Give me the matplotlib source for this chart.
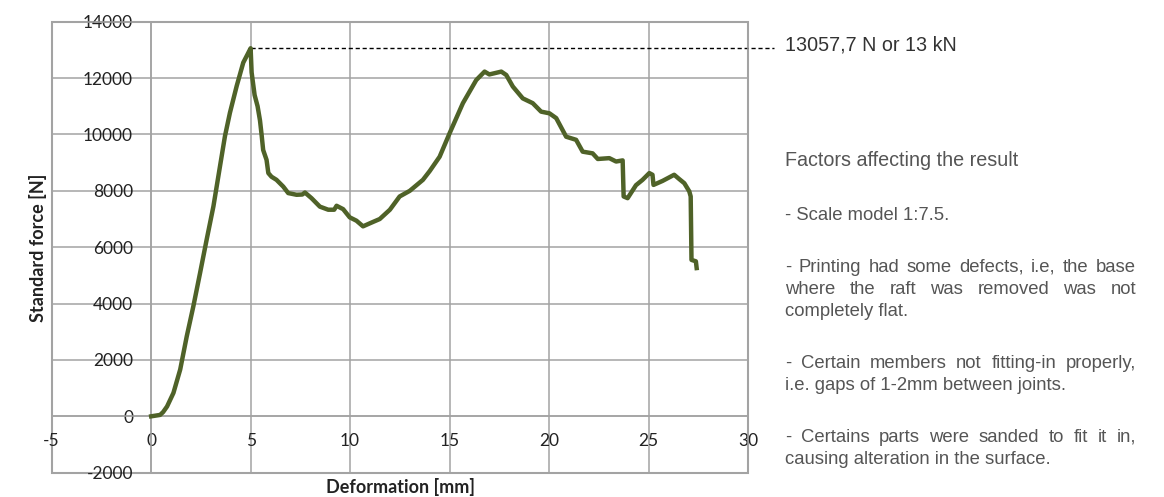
import matplotlib
matplotlib.use("Agg")
import matplotlib.pyplot as plt

plt.rcParams["axes.unicode_minus"] = False

# deformation [mm] and standard force [N]
deformation = [0, 0.45, 0.6, 0.8, 1.12, 1.46, 1.79, 2.12, 2.46, 2.79, 3.13, 3.46, 3.71,
               3.96, 4.3, 4.63, 4.85, 5.0, 5.05, 5.2, 5.35, 5.47, 5.55, 5.63, 5.8,
               5.89, 6.05, 6.3, 6.64, 6.89, 7.31, 7.6, 7.73, 8.06, 8.48, 8.9, 9.2,
               9.32, 9.65, 9.98, 10.32, 10.65, 11.0, 11.49, 12.0, 12.49, 13.0, 13.66,
               14.0, 14.5, 15.0, 15.67, 16.34, 16.76, 17.0, 17.6, 17.85, 18.18, 18.68,
               19.18, 19.6, 20.02, 20.36, 20.86, 21.36, 21.69, 22.19, 22.45, 23.03,
               23.37, 23.7, 23.75, 23.95, 24.37, 24.7, 25.04, 25.2, 25.25, 25.7, 26.29,
               26.54, 26.8, 27.05, 27.12, 27.16, 27.38, 27.42]
force = [0, 50, 150, 350, 830, 1660, 2840, 3900, 5090, 6270, 7450, 8870, 9940,
         10770, 11720, 12550, 12850, 13058, 12200, 11400, 11000, 10500, 10000, 9450, 9100,
         8630, 8500, 8390, 8150, 7920, 7860, 7870, 7940, 7740, 7440, 7330, 7330,
         7470, 7350, 7060, 6940, 6740, 6850, 7000, 7330, 7800, 8000, 8390,
         8700, 9210, 10040, 11110, 11930, 12230, 12130, 12230, 12110, 11700, 11280,
         11110, 10810, 10750, 10580, 9920, 9810, 9390, 9330, 9130, 9160,
         9040, 9080, 7800, 7740, 8200, 8390, 8630, 8570, 8210, 8350, 8570,
         8420, 8270, 7980, 7800, 5550, 5500, 5260]

peak_force = 13057.7
peak_label = "13057,7 N or 13 kN"

x_ticks = [-5, 0, 5, 10, 15, 20, 25, 30]
y_ticks = [-2000, 0, 2000, 4000, 6000, 8000, 10000, 12000, 14000]

factors_title = "Factors affecting the result"
factors = [
    ["- Scale model 1:7.5."],
    ["- Printing had some defects, i.e, the base",
     "where the raft was removed was not",
     "completely flat."],
    ["- Certain members not fitting-in properly,",
     "i.e. gaps of 1-2mm between joints."],
    ["- Certains parts were sanded to fit it in,",
     "causing alteration in the surface."],
]

fig = plt.figure(figsize=(11.64, 4.97), dpi=100)
ax = fig.add_axes([0.0444, 0.0489, 0.5982, 0.9074])

grid_col = "#a3a3a3"
ax.plot(deformation, force, color="#4f6228", lw=3.2, solid_joinstyle="round", zorder=3)
ax.set_xlim(-5, 30)
ax.set_ylim(-2000, 14000)
ax.set_xticks(x_ticks)
ax.set_yticks(y_ticks)
ax.grid(True, color=grid_col, lw=1.1)

# Excel style: axes cross at zero, labels sit next to the zero lines
ax.spines["left"].set_position(("data", 0))
ax.spines["bottom"].set_position(("data", 0))
for s in ax.spines.values():
    s.set_color(grid_col)
    s.set_linewidth(1.1)
ax.patch.set_edgecolor(grid_col)
ax.patch.set_linewidth(1.5)
ax.tick_params(length=0, labelsize=12.5, labelcolor="#222222")
ax.tick_params(axis="x", pad=12)
ax.tick_params(axis="y", pad=13)
for lab in ax.get_xticklabels() + ax.get_yticklabels():
    lab.set_family("Lato")

fig.text(0.0326, 0.501, "Standard force [N]", rotation=90, ha="center", va="center",
         fontsize=13, fontweight="bold", family="Lato", color="#222222")
fig.text(0.344, 0.021, "Deformation [mm]", ha="center", va="center",
         fontsize=13, fontweight="bold", family="Lato", color="#222222")

# dashed line from the peak to the label
ax.plot([5, 31.3], [peak_force, peak_force], color="black", lw=1, ls=(0, (3, 2)),
        clip_on=False, zorder=2)
fig.text(0.674, 0.91, peak_label, ha="left", va="center", fontsize=14.2,
         family="Liberation Sans", color="#333333")

# notes on the right, justified like the original
left_px, right_px = 785, 1136
W, H = 1164, 497
body_col = "#555555"
body_size = 13.3
fig.text(left_px / W, 1 - 160 / H, factors_title, ha="left", va="center",
         fontsize=14.2, family="Liberation Sans", color=body_col)

renderer = fig.canvas.get_renderer()


def put_line(text, y_px, justify):
    if not justify:
        fig.text(left_px / W, 1 - y_px / H, text, ha="left", va="center",
                 fontsize=body_size, family="Liberation Sans", color=body_col)
        return
    words = text.split(" ")
    items = [fig.text(0, 1 - y_px / H, w, ha="left", va="center", fontsize=body_size,
                      family="Liberation Sans", color=body_col) for w in words]
    widths = [t.get_window_extent(renderer).width for t in items]
    gap = (right_px - left_px - sum(widths)) / (len(words) - 1)
    x = left_px
    for t, w in zip(items, widths):
        t.set_x(x / W)
        x += w + gap


y_px = 215
for para in factors:
    for i, line in enumerate(para):
        put_line(line, y_px, i < len(para) - 1)
        y_px += 22
    y_px += 30

fig.savefig("out.png", dpi=100)
